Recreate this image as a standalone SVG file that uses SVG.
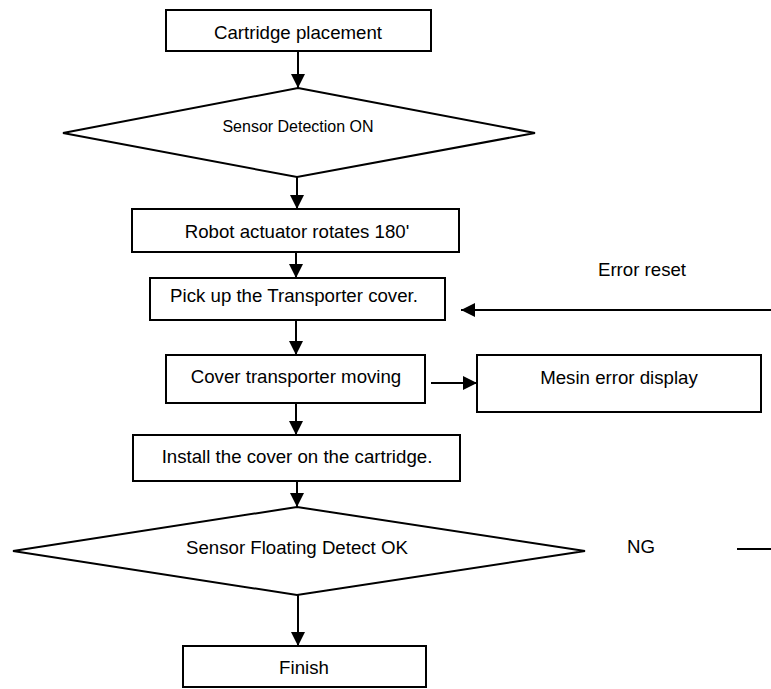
<svg xmlns="http://www.w3.org/2000/svg" width="771" height="689" viewBox="0 0 771 689">
  <style>
    .box { fill: #ffffff; stroke: #000000; stroke-width: 2; }
    .dec { fill: #ffffff; stroke: #000000; stroke-width: 2; stroke-linejoin: miter; }
    .lbl { font-family: "Liberation Sans", Arial, sans-serif; font-size: 18.67px; fill: #000000; text-anchor: middle; }
    .small { font-size: 16px; }
    .edge { stroke: #000000; stroke-width: 2; fill: none; }
  </style>
  <defs>
    <marker id="arrow" markerUnits="userSpaceOnUse" markerWidth="14" markerHeight="14" refX="14" refY="7" orient="auto">
      <path d="M0,0 L14,7 L0,14 Z" fill="#000000"/>
    </marker>
  </defs>

  <rect width="771" height="689" fill="#ffffff"/>

  <!-- flow connectors -->
  <g id="connectors">
    <line class="edge" x1="298" y1="51" x2="298" y2="88" marker-end="url(#arrow)"/>
    <line class="edge" x1="297" y1="177" x2="297" y2="209" marker-end="url(#arrow)"/>
    <line class="edge" x1="296" y1="252" x2="296" y2="278" marker-end="url(#arrow)"/>
    <line class="edge" x1="296" y1="320" x2="296" y2="355" marker-end="url(#arrow)"/>
    <line class="edge" x1="296" y1="403" x2="296" y2="435" marker-end="url(#arrow)"/>
    <line class="edge" x1="297" y1="481" x2="297" y2="507" marker-end="url(#arrow)"/>
    <line class="edge" x1="298" y1="595" x2="298" y2="646" marker-end="url(#arrow)"/>
    <line class="edge" x1="431" y1="383" x2="477" y2="383" marker-end="url(#arrow)"/>
    <line class="edge" x1="771" y1="310" x2="461" y2="310" marker-end="url(#arrow)"/>
    <line class="edge" x1="737" y1="549" x2="771" y2="549"/>
    <text class="lbl" x="642" y="276">Error reset</text>
    <text class="lbl" x="641" y="553">NG</text>
  </g>

  <g id="cartridge-placement">
    <rect class="box" x="166" y="10" width="265" height="41"/>
    <text class="lbl" x="298" y="39">Cartridge placement</text>
  </g>

  <g id="sensor-detection">
    <polygon class="dec" points="298,88 535,133 297,177 63,133"/>
    <text class="lbl small" x="298" y="132">Sensor Detection ON</text>
  </g>

  <g id="robot-rotate">
    <rect class="box" x="132" y="209" width="327" height="43"/>
    <text class="lbl" x="297" y="238">Robot actuator rotates 180'</text>
  </g>

  <g id="pick-up-cover">
    <rect class="box" x="150" y="278" width="295" height="42"/>
    <text class="lbl" x="294" y="302">Pick up the Transporter cover.</text>
  </g>

  <g id="cover-moving">
    <rect class="box" x="166" y="355" width="259" height="48"/>
    <text class="lbl" x="296" y="383">Cover transporter moving</text>
  </g>

  <g id="error-display">
    <rect class="box" x="477" y="355" width="284" height="57"/>
    <text class="lbl" x="619" y="384">Mesin error display</text>
  </g>

  <g id="install-cover">
    <rect class="box" x="133" y="435" width="327" height="46"/>
    <text class="lbl" x="297" y="463">Install the cover on the cartridge.</text>
  </g>

  <g id="floating-detect">
    <polygon class="dec" points="297,507 585,551 297,595 13,551"/>
    <text class="lbl" x="297" y="554">Sensor Floating Detect OK</text>
  </g>

  <g id="finish">
    <rect class="box" x="183" y="646" width="243" height="41"/>
    <text class="lbl" x="304" y="674">Finish</text>
  </g>
</svg>
